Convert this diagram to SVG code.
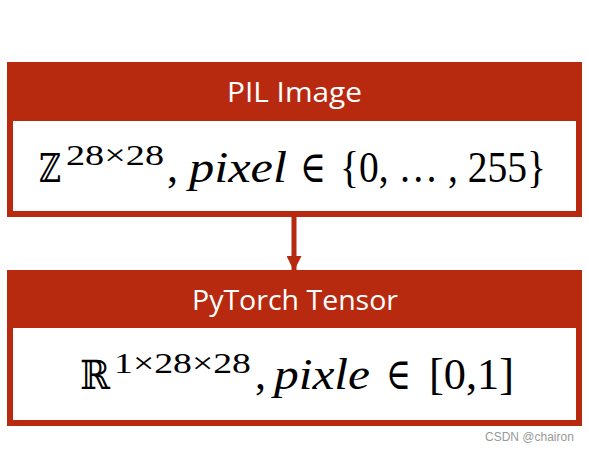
<svg xmlns="http://www.w3.org/2000/svg" width="589" height="450" viewBox="0 0 589 450">
<style>
.outer{fill:#B72A10}
.inner{fill:#FFFFFF}
.hdr{font-family:"Open Sans","Noto Sans",sans-serif;font-size:27px;fill:#FFFFFF;text-anchor:middle}
.m{font-family:"Liberation Serif","DejaVu Serif",serif;font-size:44px;fill:#000}
.ds{font-family:"DejaVu Serif","DejaVu Sans",serif;font-size:40px;fill:#000}
.sup{font-family:"Liberation Serif","DejaVu Serif",serif;font-size:29px;fill:#000}
.it{font-style:italic}
.wm{font-family:"Liberation Sans",sans-serif;font-size:12px;fill:#999}
</style>
<defs>
<marker id="arr" viewBox="0 0 10 10" refX="10" refY="5" markerWidth="3" markerHeight="3" markerUnits="strokeWidth" orient="auto">
<path d="M0,0 L10,5 L0,10 Z" fill="#B72A10"/>
</marker>
</defs>
<rect width="589" height="450" fill="#FFFFFF"/>
<g id="connectors">
<line x1="294" y1="216" x2="294" y2="271" stroke="#B72A10" stroke-width="5" marker-end="url(#arr)"/>
</g>
<g id="node-pil">
<rect class="outer" x="7" y="62" width="575" height="155"/>
<rect class="inner" x="13" y="121" width="563" height="90"/>
<text class="hdr" x="294.5" y="102" textLength="135" lengthAdjust="spacingAndGlyphs">PIL Image</text>
<text class="ds" x="39" y="182" textLength="22" lengthAdjust="spacingAndGlyphs">ℤ</text>
<text class="sup" x="66" y="165" textLength="98" lengthAdjust="spacingAndGlyphs">28×28</text>
<text class="m" x="167" y="182">,</text>
<text class="m it" x="189" y="182" textLength="98" lengthAdjust="spacingAndGlyphs">pixel</text>
<text class="m" x="300" y="182" textLength="26" lengthAdjust="spacingAndGlyphs">∈</text>
<text class="m" x="340" y="182" textLength="206" lengthAdjust="spacingAndGlyphs">{0, … , 255}</text>
</g>
<g id="node-tensor">
<rect class="outer" x="7" y="270" width="575" height="156"/>
<rect class="inner" x="13" y="328" width="563" height="92"/>
<text class="hdr" x="295" y="310" textLength="206" lengthAdjust="spacingAndGlyphs">PyTorch Tensor</text>
<text class="ds" x="80" y="389" textLength="30" lengthAdjust="spacingAndGlyphs">ℝ</text>
<text class="sup" x="114" y="373" textLength="137" lengthAdjust="spacingAndGlyphs">1×28×28</text>
<text class="m" x="255" y="389">,</text>
<text class="m it" x="274" y="389" textLength="96" lengthAdjust="spacingAndGlyphs">pixle</text>
<text class="m" x="386" y="389" textLength="25" lengthAdjust="spacingAndGlyphs">∈</text>
<text class="m" x="429" y="389" textLength="85" lengthAdjust="spacingAndGlyphs">[0,1]</text>
</g>
<text class="wm" x="485" y="441">CSDN @chairon</text>
</svg>
